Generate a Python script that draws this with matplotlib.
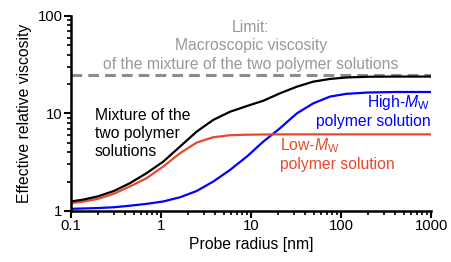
import matplotlib.pyplot as plt

plt.rcParams["font.family"] = ["Liberation Sans", "DejaVu Sans"]
plt.rcParams["mathtext.fontset"] = "custom"
plt.rcParams["mathtext.rm"] = "Liberation Sans"
plt.rcParams["mathtext.it"] = "Liberation Sans:italic"

# probe radius [nm]
radius = [0.1, 0.14, 0.2, 0.3, 0.45, 0.69, 1.06, 1.63, 2.49, 3.81, 5.84,
          8.96, 13.7, 21.0, 32.2, 49.2, 75.5, 115, 200, 400, 1000]

# effective relative viscosity
mixture = [1.25, 1.31, 1.41, 1.6, 1.92, 2.43, 3.2, 4.57, 6.5, 8.58, 10.4,
           11.9, 13.5, 16.1, 18.8, 21.2, 22.6, 23.4, 23.8, 23.9, 23.9]
low_mw = [1.2, 1.25, 1.33, 1.5, 1.78, 2.16, 2.85, 3.91, 5.02, 5.7, 5.98,
          6.05, 6.08, 6.1, 6.1, 6.1, 6.1, 6.1, 6.1, 6.1, 6.1]
high_mw = [1.05, 1.06, 1.07, 1.09, 1.13, 1.18, 1.25, 1.38, 1.6, 2.0, 2.63,
           3.6, 5.14, 7.05, 10.0, 12.7, 14.9, 15.9, 16.4, 16.6, 16.6]
limit = 24.8

red = "#e8472e"
blue = "#0000ff"

fig = plt.figure(figsize=(4.51, 2.62), dpi=100)
ax = fig.add_axes([0.157, 0.195, 0.799, 0.744])

ax.axhline(limit, color="#8c8c8c", lw=2.2, ls=(0, (3.5, 2)))
ax.plot(radius, high_mw, color=blue, lw=1.6)
ax.plot(radius, low_mw, color=red, lw=1.6)
ax.plot(radius, mixture, color="black", lw=1.6)

ax.set_xscale("log")
ax.set_yscale("log")
ax.set_xlim(0.1, 1000)
ax.set_ylim(1, 100)
ax.set_xticks([0.1, 1, 10, 100, 1000])
ax.set_xticklabels(["0.1", "1", "10", "100", "1000"])
ax.set_yticks([1, 10, 100])
ax.set_yticklabels(["1", "10", "100"])

for s in ["top", "right"]:
    ax.spines[s].set_visible(False)
for s in ["left", "bottom"]:
    ax.spines[s].set_linewidth(1.8)
ax.tick_params(which="major", length=5, width=1.5, labelsize=10.7, pad=1)
ax.tick_params(which="minor", length=3, width=1.2)

ax.set_xlabel("Probe radius [nm]", fontsize=11.3, labelpad=3)
ax.set_ylabel("Effective relative viscosity", fontsize=11.3, labelpad=4)

ax.text(10, 49.5, "Limit:\nMacroscopic viscosity\nof the mixture of the two polymer solutions",
        color="#999999", fontsize=11.3, ha="center", va="center", linespacing=1.28)
ax.text(0.185, 6.2, "Mixture of the\ntwo polymer\nsolutions",
        color="black", fontsize=11.3, ha="left", va="center", linespacing=1.27)
ax.text(980, 10.6, "High-$M_\\mathrm{W}$\npolymer solution",
        color=blue, fontsize=11.3, ha="right", va="center", linespacing=1.15)
ax.text(21, 3.8, "Low-$M_\\mathrm{W}$\npolymer solution",
        color=red, fontsize=11.3, ha="left", va="center", linespacing=1.15)

fig.savefig("out.png", dpi=100)
